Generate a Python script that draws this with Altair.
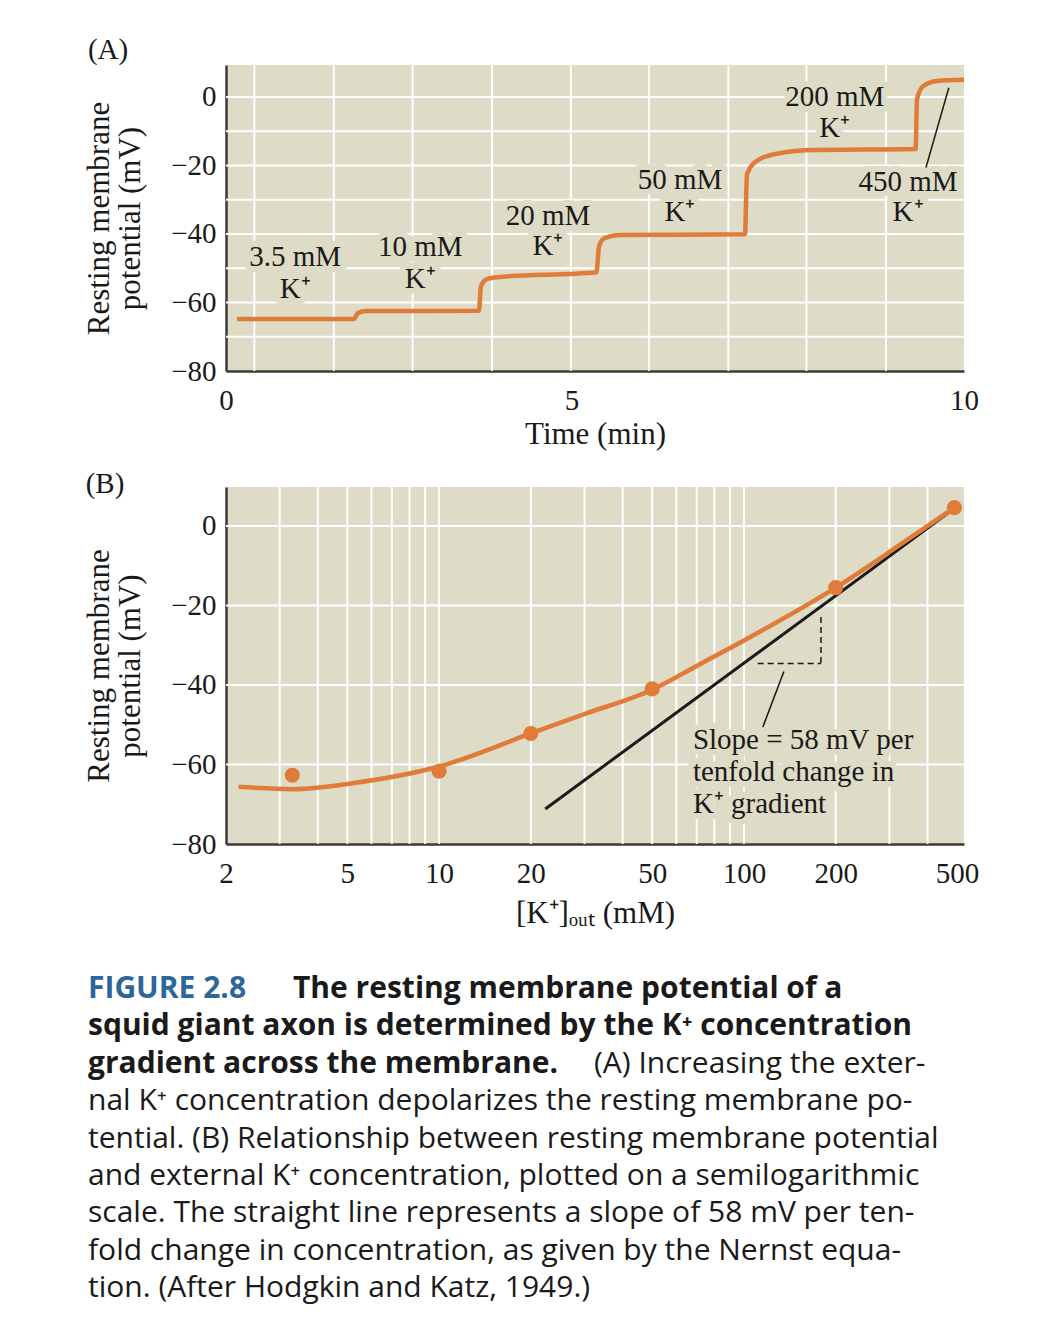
import altair as alt
import pandas as pd

SERIF = "Liberation Serif"
SANS = "Open Sans"
BG = "#dedbc7"
ORANGE = "#e07b39"
INK = "#1a1a1a"
BLUE = "#2d6699"

# ---------------- Panel A : membrane potential vs time ----------------
trace_t = [0.16, 1.85, 1.91, 2.03, 3.66, 3.69, 3.78, 3.92, 5.36, 5.40, 5.48, 5.70,
           7.51, 7.54, 7.70, 7.99, 8.52, 9.98, 10.00, 10.09, 10.29, 10.68]
trace_mv = [-64.8, -64.8, -63.1, -62.5, -62.4, -55.2, -53.1, -52.6, -51.2, -43.5, -41.2, -40.3,
            -40.1, -22.5, -18.4, -16.5, -15.5, -15.2, -0.6, 3.2, 4.7, 5.0]
gridA_x = [0.41, 1.56, 2.70, 3.85, 4.99, 6.12, 7.27, 8.40, 9.55]
gridA_y = [-70, -60, -50, -40, -30, -20, -10, 0]
labA_top = ["3.5 mM", "10 mM", "20 mM", "50 mM", "200 mM", "450 mM"]
labA_bot = ["K⁺", "K⁺", "K⁺", "K⁺", "K⁺", "K⁺"]
labA_t = [1.00, 2.81, 4.66, 6.57, 8.81, 9.87]
labA_y1 = [-46.8, -43.9, -34.7, -24.3, 0.1, -24.8]
labA_y2 = [-56.1, -53.1, -43.4, -33.6, -9.1, -33.6]
leadA_t = [10.46, 10.13]
leadA_mv = [2.7, -20.6]
xA_ticks = [0, 5, 10.68]
yA_ticks = [-80, -60, -40, -20, 0]

# ---------------- Panel B : membrane potential vs [K+]out ----------------
pts_conc = [3.3, 10, 20, 50, 200, 490]
pts_mv = [-62.7, -61.7, -52.2, -41.0, -15.5, 4.6]
fit_conc = [2.2, 3.3, 5.2, 10, 20, 30, 50, 70, 100, 200, 320, 490]
fit_mv = [-65.6, -66.2, -64.7, -60.5, -52.2, -47.3, -41.2, -35.2, -28.8, -15.5, -5.1, 4.6]
nernst_conc = [22.3, 478]
nernst_mv = [-71.2, 3.8]
dash_x = [178.9, 110.9]
dash_x2 = [178.9, 178.9]
dash_y = [-22.9, -34.6]
dash_y2 = [-34.6, -34.6]
leadB = {"x": [135.2], "x2": [115.3], "y": [-36.6], "y2": [-50.6]}
slope_lines = ["Slope = 58 mV per", "tenfold change in", "K⁺ gradient"]
slope_x = [68, 68, 68]
slope_y = [-53.8, -61.9, -69.9]
gridB_x = [3, 4, 5, 6, 7, 8, 9, 10, 20, 30, 40, 50, 60, 70, 80, 90, 100, 200, 300, 400]
gridB_y = [-60, -40, -20, 0]
xB_ticks = [2, 5, 10, 20, 50, 100, 200, 500]
yB_ticks = [-80, -60, -40, -20, 0]

# ---------------- Caption ----------------
cap_line = [0, 0, 1, 2, 2, 3, 4, 5, 6, 7, 8]
cap_x = [-138, 67, -138, -138, 368, -138, -138, -138, -138, -138, -138]
cap_style = ["blue", "bold", "bold", "bold", "normal", "normal", "normal", "normal", "normal", "normal", "normal"]
cap_text = [
    "FIGURE 2.8",
    "The resting membrane potential of a",
    "squid giant axon is determined by the K⁺ concentration",
    "gradient across the membrane.",
    "(A) Increasing the exter-",
    "nal K⁺ concentration depolarizes the resting membrane po-",
    "tential. (B) Relationship between resting membrane potential",
    "and external K⁺ concentration, plotted on a semilogarithmic",
    "scale. The straight line represents a slope of 58 mV per ten-",
    "fold change in concentration, as given by the Nernst equa-",
    "tion. (After Hodgkin and Katz, 1949.)",
]

W = 738
HA = 306
HB = 357
YTITLE = ["Resting membrane", "potential (mV)"]

# ---------- build panel A ----------
sxA = alt.Scale(domain=[0, 10.68], nice=False, zero=False)
syA = alt.Scale(domain=[-80, 9.34], nice=False, zero=False)
axA_x = alt.Axis(values=xA_ticks, labelExpr="datum.value > 10 ? '10' : datum.label",
                 title="Time (min)", titlePadding=4, labelPadding=15)
axA_y = alt.Axis(values=yA_ticks, title=YTITLE)


def XA(f):
    return alt.X(f, scale=sxA, axis=axA_x, title="Time (min)")


def YA(f):
    return alt.Y(f, scale=syA, axis=axA_y, title=YTITLE)


traceA = pd.DataFrame({"t": trace_t, "mv": trace_mv})
gAx = pd.DataFrame({"t": gridA_x})
gAy = pd.DataFrame({"mv": gridA_y})
labA = pd.DataFrame({"t": labA_t + labA_t, "mv": labA_y1 + labA_y2, "s": labA_top + labA_bot})
leadA = pd.DataFrame({"t": [leadA_t[0]], "t2": [leadA_t[1]], "mv": [leadA_mv[0]], "mv2": [leadA_mv[1]]})

gridAx_l = alt.Chart(gAx).mark_rule(color="white", strokeWidth=2).encode(x=XA("t:Q"))
gridAy_l = alt.Chart(gAy).mark_rule(color="white", strokeWidth=2).encode(y=YA("mv:Q"))
lineA = alt.Chart(traceA).mark_line(color=ORANGE, strokeWidth=4.5, interpolate="monotone").encode(
    x=XA("t:Q"), y=YA("mv:Q"))
leadA_l = alt.Chart(leadA).mark_rule(color=INK, strokeWidth=1.5).encode(
    x=XA("t:Q"), x2="t2:Q", y=YA("mv:Q"), y2="mv2:Q")
haloA = alt.Chart(labA).mark_text(font=SERIF, fontSize=29, stroke=BG, strokeWidth=12,
                                  strokeJoin="round", color=BG, baseline="middle").encode(
    x=XA("t:Q"), y=YA("mv:Q"), text="s:N")
textA = alt.Chart(labA).mark_text(font=SERIF, fontSize=29, color=INK, baseline="middle").encode(
    x=XA("t:Q"), y=YA("mv:Q"), text="s:N")
tagA = alt.Chart(pd.DataFrame({"s": ["(A)"]})).mark_text(
    font=SERIF, fontSize=29, color=INK, align="center", baseline="middle").encode(
    x=alt.value(-118), y=alt.value(-15), text="s:N")

panelA = alt.layer(gridAx_l, gridAy_l, lineA, leadA_l, haloA, textA, tagA).properties(
    width=W, height=HA, view=alt.ViewBackground(fill=BG, stroke=None))

# ---------- build panel B ----------
sxB = alt.Scale(type="log", domain=[2, 527], nice=False)
syB = alt.Scale(domain=[-80, 9.8], nice=False, zero=False)
XB_TITLE = "[K⁺]ₒᵤₜ (mM)"
axB_x = alt.Axis(values=xB_ticks, format="d", title=XB_TITLE, titlePadding=10, labelPadding=15)
axB_y = alt.Axis(values=yB_ticks, title=YTITLE)


def XB(f):
    return alt.X(f, scale=sxB, axis=axB_x, title=XB_TITLE)


def YB(f):
    return alt.Y(f, scale=syB, axis=axB_y, title=YTITLE)


gBx = pd.DataFrame({"c": gridB_x})
gBy = pd.DataFrame({"mv": gridB_y})
pts = pd.DataFrame({"c": pts_conc, "mv": pts_mv})
fit = pd.DataFrame({"c": fit_conc, "mv": fit_mv})
nern = pd.DataFrame({"c": nernst_conc, "mv": nernst_mv})
dash = pd.DataFrame({"c": dash_x, "c2": dash_x2, "mv": dash_y, "mv2": dash_y2})
leadBd = pd.DataFrame({"c": leadB["x"], "c2": leadB["x2"], "mv": leadB["y"], "mv2": leadB["y2"]})
slope = pd.DataFrame({"c": slope_x, "mv": slope_y, "s": slope_lines})

gridBx_l = alt.Chart(gBx).mark_rule(color="white", strokeWidth=2).encode(x=XB("c:Q"))
gridBy_l = alt.Chart(gBy).mark_rule(color="white", strokeWidth=2).encode(y=YB("mv:Q"))
nernL = alt.Chart(nern).mark_line(color=INK, strokeWidth=3).encode(x=XB("c:Q"), y=YB("mv:Q"))
dashL = alt.Chart(dash).mark_rule(color=INK, strokeWidth=1.5, strokeDash=[6, 4]).encode(
    x=XB("c:Q"), x2="c2:Q", y=YB("mv:Q"), y2="mv2:Q")
leadBL = alt.Chart(leadBd).mark_rule(color=INK, strokeWidth=1.5).encode(
    x=XB("c:Q"), x2="c2:Q", y=YB("mv:Q"), y2="mv2:Q")
fitL = alt.Chart(fit).mark_line(color=ORANGE, strokeWidth=4.5, interpolate="monotone").encode(
    x=XB("c:Q"), y=YB("mv:Q"))
ptsL = alt.Chart(pts).mark_circle(color=ORANGE, opacity=1, size=230).encode(
    x=XB("c:Q"), y=YB("mv:Q"))
haloB = alt.Chart(slope).mark_text(font=SERIF, fontSize=29, stroke=BG, strokeWidth=12,
                                   strokeJoin="round", color=BG, align="left", baseline="middle").encode(
    x=XB("c:Q"), y=YB("mv:Q"), text="s:N")
textB = alt.Chart(slope).mark_text(font=SERIF, fontSize=29, color=INK, align="left", baseline="middle").encode(
    x=XB("c:Q"), y=YB("mv:Q"), text="s:N")
tagB = alt.Chart(pd.DataFrame({"s": ["(B)"]})).mark_text(
    font=SERIF, fontSize=29, color=INK, align="center", baseline="middle").encode(
    x=alt.value(-121), y=alt.value(-3), text="s:N")

panelB = alt.layer(gridBx_l, gridBy_l, haloB, textB, nernL, dashL, leadBL, fitL, ptsL, tagB).properties(
    width=W, height=HB, view=alt.ViewBackground(fill=BG, stroke=None))

# ---------- caption ----------
cap = pd.DataFrame({"line": cap_line, "x": cap_x, "style": cap_style, "s": cap_text})
ycap = alt.Y("line:Q", scale=alt.Scale(domain=[0, 8], range=[29, 328]), axis=None)
xcap = alt.X("x:Q", scale=None, axis=None)
capBlue = alt.Chart(cap).transform_filter("datum.style == 'blue'").mark_text(
    font=SANS, fontSize=30, fontWeight="bold", color=BLUE, align="left", baseline="middle").encode(
    x=xcap, y=ycap, text="s:N")
capBold = alt.Chart(cap).transform_filter("datum.style == 'bold'").mark_text(
    font=SANS, fontSize=30, fontWeight="bold", color=INK, align="left", baseline="middle").encode(
    x=xcap, y=ycap, text="s:N")
capNorm = alt.Chart(cap).transform_filter("datum.style == 'normal'").mark_text(
    font=SANS, fontSize=30, color=INK, align="left", baseline="middle").encode(
    x=xcap, y=ycap, text="s:N")
caption = alt.layer(capBlue, capBold, capNorm).properties(
    width=W, height=340, view=alt.ViewBackground(fill=None, stroke=None))

chart = alt.vconcat(panelA, panelB, caption, spacing=116, bounds="flush").properties(
    padding={"left": 75, "top": 28, "right": 5, "bottom": 5}
).configure_view(stroke=None).configure_axis(
    labelFont=SERIF, titleFont=SERIF, labelFontSize=29, titleFontSize=31,
    titleFontWeight="normal", labelColor=INK, titleColor=INK,
    domainColor="#3a3a3a", domainWidth=2.5, ticks=False, grid=False,
    labelFlush=False, labelPadding=10, zindex=1, titleLineHeight=31
).configure_axisY(titlePadding=24)

chart.save("out.html", embed_options={"renderer": "svg", "actions": False})
